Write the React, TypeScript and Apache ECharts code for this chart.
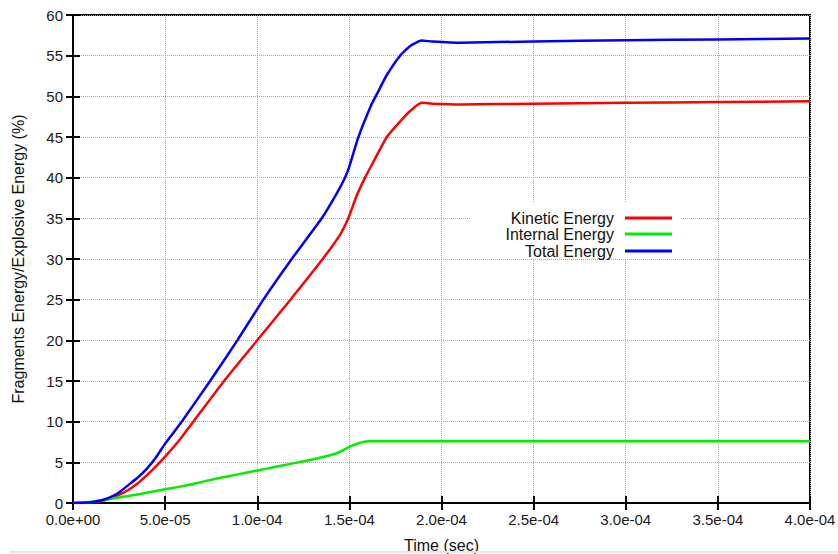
import React, { useEffect, useRef } from "react";
import * as echarts from "echarts";

const kineticT = [0, 0.5e-5, 1e-5, 1.5e-5, 2e-5, 2.5e-5, 3e-5, 3.5e-5, 4e-5, 4.5e-5, 5e-5, 5.8e-5, 6.53e-5, 8.2e-5, 10e-5, 11.8e-5, 13.55e-5, 14.5e-5, 14.94e-5, 15.4e-5, 15.85e-5, 16.2e-5, 17.03e-5, 17.75e-5, 18.3e-5, 18.92e-5, 19.5e-5, 21e-5, 25e-5, 30e-5, 35e-5, 40e-5];
const kineticV = [0, 0.01, 0.05, 0.2, 0.5, 1.0, 1.6, 2.4, 3.4, 4.5, 5.7, 7.8, 10, 15, 20, 25, 30, 33, 35, 37.8, 40, 41.5, 45, 46.9, 48.2, 49.2, 49.1, 49.0, 49.1, 49.2, 49.3, 49.4];

const internalT = [0, 1e-5, 2e-5, 3e-5, 4e-5, 5e-5, 6e-5, 7e-5, 8e-5, 9e-5, 10e-5, 11e-5, 12e-5, 13e-5, 14e-5, 14.5e-5, 15e-5, 15.5e-5, 16e-5, 16.5e-5, 20e-5, 25e-5, 30e-5, 35e-5, 40e-5];
const internalV = [0, 0.15, 0.5, 0.85, 1.25, 1.68, 2.1, 2.6, 3.1, 3.55, 4.0, 4.45, 4.9, 5.35, 5.9, 6.3, 6.9, 7.35, 7.6, 7.6, 7.6, 7.6, 7.6, 7.6, 7.6];

const totalT = [0, 0.5e-5, 1e-5, 1.5e-5, 2e-5, 2.5e-5, 3e-5, 3.5e-5, 4e-5, 4.5e-5, 5e-5, 5.9e-5, 7.44e-5, 8.92e-5, 10.33e-5, 11.87e-5, 13.5e-5, 14.3e-5, 14.76e-5, 15.0e-5, 15.49e-5, 16.2e-5, 16.5e-5, 17.0e-5, 17.75e-5, 18.3e-5, 18.92e-5, 19.5e-5, 21e-5, 25e-5, 30e-5, 35e-5, 40e-5];
const totalV = [0, 0.02, 0.1, 0.3, 0.7, 1.3, 2.2, 3.1, 4.2, 5.6, 7.3, 10, 15, 20, 25, 30, 35, 38, 40, 41.4, 45, 49, 50.3, 52.5, 55, 56.2, 56.85, 56.75, 56.6, 56.75, 56.9, 57.0, 57.1];

const seriesNames = ["Kinetic Energy", "Internal Energy", "Total Energy"];
const seriesColors = ["#ff0000", "#00ee00", "#0000ff"];

const FONT = "Liberation Sans, Arial, Helvetica, sans-serif";

function fmtExp(v: number): string {
  const s = v.toExponential(1);
  const [m, e] = s.split("e");
  const n = parseInt(e, 10);
  const sign = n < 0 ? "-" : "+";
  const a = Math.abs(n);
  return m + "e" + sign + (a < 10 ? "0" + a : String(a));
}

function zip(t: number[], v: number[]) {
  return t.map((x, i) => [x, v[i]]);
}

export default function App() {
  const ref = useRef<HTMLDivElement>(null);
  useEffect(() => {
    if (!ref.current) return;
    const chart = echarts.init(ref.current, null, { renderer: "svg" });
    const tickStyle = { inside: true, length: 7, lineStyle: { color: "#000", width: 2 } };
    const split = { show: true, lineStyle: { color: "#aaa", type: "dotted" as const, width: 1 } };
    const rowTops = [210, 226, 243];
    const mkSeries = (i: number, t: number[], v: number[]) => ({
      name: seriesNames[i], type: "line", data: zip(t, v), showSymbol: false, symbol: "none",
      smooth: 0.15, lineStyle: { color: seriesColors[i], width: 2.5 }, itemStyle: { color: seriesColors[i] }, z: 3,
    });
    const option: any = {
      animation: false,
      backgroundColor: "#fff",
      grid: {
        left: 73, right: 28, top: 15, bottom: 51, show: true, borderColor: "#000", borderWidth: 2,
        backgroundColor: "transparent", containLabel: false, outerBoundsMode: "none",
      },
      xAxis: [
        {
          type: "value", min: 0, max: 4e-4, interval: 5e-5, position: "bottom",
          name: "Time (sec)", nameLocation: "middle", nameGap: 34,
          nameTextStyle: { fontFamily: FONT, fontSize: 16, color: "#111" },
          axisLine: { show: true, lineStyle: { color: "#000", width: 2 } },
          axisTick: tickStyle,
          axisLabel: { formatter: fmtExp, fontFamily: FONT, fontSize: 15, color: "#1a1a1a", margin: 9 },
          splitLine: split,
        },
        {
          type: "value", min: 0, max: 4e-4, interval: 5e-5, position: "top",
          axisLine: { show: true, lineStyle: { color: "#000", width: 2 } },
          axisTick: tickStyle, axisLabel: { show: false }, splitLine: { show: false },
        },
      ],
      yAxis: [
        {
          type: "value", min: 0, max: 60, interval: 5, position: "left",
          name: "Fragments Energy/Explosive Energy (%)", nameLocation: "middle", nameGap: 47,
          nameTextStyle: { fontFamily: FONT, fontSize: 16, color: "#111" },
          axisLine: { show: true, lineStyle: { color: "#000", width: 2 } },
          axisTick: tickStyle,
          axisLabel: { fontFamily: FONT, fontSize: 15, color: "#1a1a1a", margin: 10 },
          splitLine: split,
        },
        {
          type: "value", min: 0, max: 60, interval: 5, position: "right",
          axisLine: { show: true, lineStyle: { color: "#000", width: 2 } },
          axisTick: tickStyle, axisLabel: { show: false }, splitLine: { show: false },
        },
      ],
      legend: seriesNames.map((name, i) => ({
        data: [{ name, icon: "rect" }],
        orient: "horizontal",
        align: "right",
        right: 166,
        top: rowTops[i],
        padding: 0,
        itemWidth: 47,
        itemHeight: 3,
        selectedMode: false,
        textStyle: { fontFamily: FONT, fontSize: 16, color: "#111", padding: [0, 6, 0, 0] },
      })),
      graphic: [
        { type: "rect", z: 1, shape: { x: 470, y: 203, width: 211, height: 55 }, style: { fill: "#fff" } },
        { type: "line", z: 1, shape: { x1: 10, y1: 552, x2: 838, y2: 552 }, style: { stroke: "#e6e6e6", lineWidth: 2 } },
      ],
      series: [
        mkSeries(0, kineticT, kineticV),
        mkSeries(1, internalT, internalV),
        mkSeries(2, totalT, totalV),
      ],
    };
    chart.setOption(option);
    return () => chart.dispose();
  }, []);
  return <div ref={ref} style={{ position: "fixed", left: 0, top: 0, width: 838, height: 554 }} />;
}
